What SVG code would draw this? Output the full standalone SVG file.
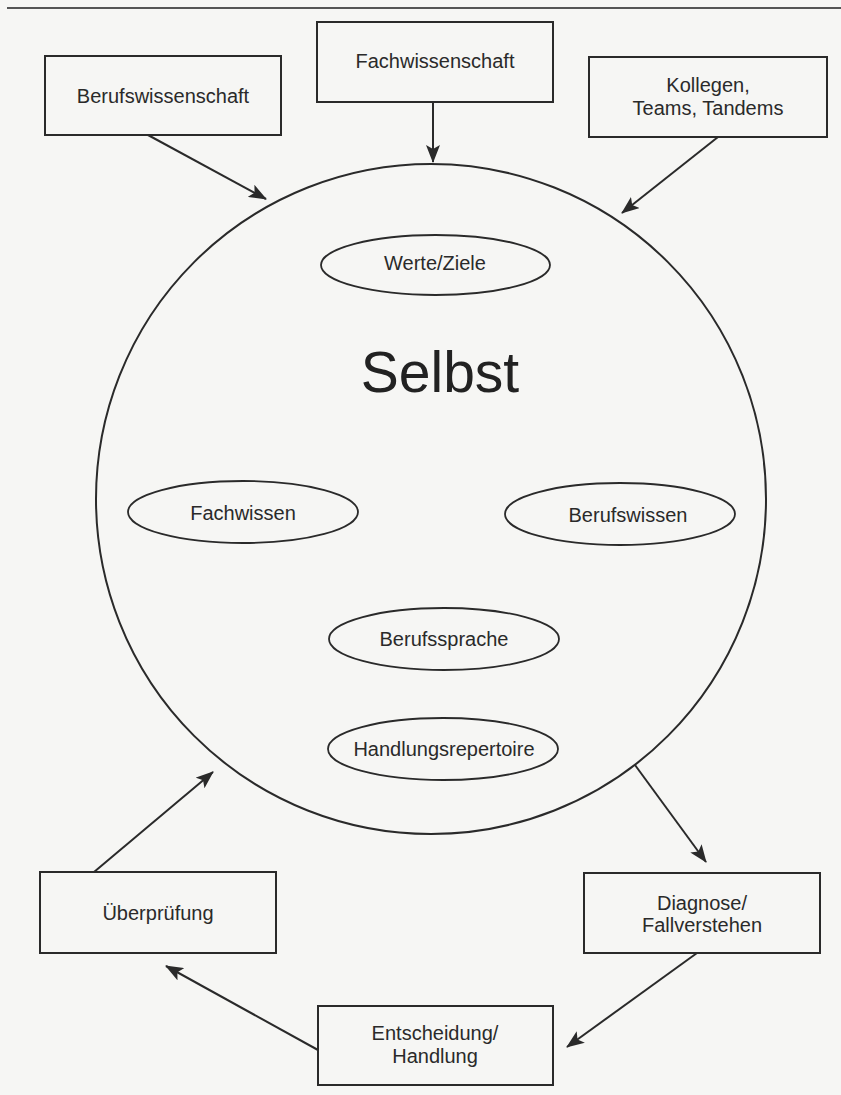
<svg xmlns="http://www.w3.org/2000/svg" width="841" height="1095" viewBox="0 0 841 1095">
  <style>
    .box { fill: none; stroke: #2a2a2a; stroke-width: 2; }
    .oval { fill: none; stroke: #2a2a2a; stroke-width: 1.8; }
    .lbl { font-family: "Liberation Sans", Arial, sans-serif; font-size: 20px; fill: #2a2a2a; text-anchor: middle; }
    .big { font-family: "Liberation Sans", Arial, sans-serif; font-size: 57px; fill: #222; text-anchor: middle; }
    .conn { stroke: #2a2a2a; stroke-width: 2; fill: none; marker-end: url(#arrow); }
  </style>
  <defs>
    <marker id="arrow" markerUnits="userSpaceOnUse" markerWidth="18" markerHeight="14" refX="17" refY="7" orient="auto">
      <path d="M0,0 L18,7 L0,14 L4,7 Z" fill="#2a2a2a"/>
    </marker>
  </defs>

  <rect x="0" y="0" width="841" height="1095" fill="#f6f6f4"/>
  <line x1="7" y1="8" x2="841" y2="8" stroke="#555" stroke-width="2"/>

  <!-- outer sources -->
  <g id="berufswissenschaft">
    <rect class="box" x="45" y="56" width="236" height="79"/>
    <text class="lbl" x="163" y="103">Berufswissenschaft</text>
  </g>
  <g id="fachwissenschaft">
    <rect class="box" x="317" y="22" width="236" height="80"/>
    <text class="lbl" x="435" y="68">Fachwissenschaft</text>
  </g>
  <g id="kollegen">
    <rect class="box" x="589" y="57" width="238" height="80"/>
    <text class="lbl" x="708" y="92">Kollegen,</text>
    <text class="lbl" x="708" y="115">Teams, Tandems</text>
  </g>

  <!-- the self with its components -->
  <g id="selbst">
    <circle class="box" cx="431" cy="499" r="335"/>
    <text class="big" x="440" y="392">Selbst</text>
  </g>
  <g id="werte-ziele">
    <ellipse class="oval" cx="435.5" cy="265" rx="114.5" ry="30"/>
    <text class="lbl" x="435" y="270">Werte/Ziele</text>
  </g>
  <g id="fachwissen">
    <ellipse class="oval" cx="243" cy="512" rx="115" ry="31"/>
    <text class="lbl" x="243" y="520">Fachwissen</text>
  </g>
  <g id="berufswissen">
    <ellipse class="oval" cx="620" cy="514" rx="115" ry="31"/>
    <text class="lbl" x="628" y="522">Berufswissen</text>
  </g>
  <g id="berufssprache">
    <ellipse class="oval" cx="444" cy="639" rx="115" ry="31"/>
    <text class="lbl" x="444" y="646">Berufssprache</text>
  </g>
  <g id="handlungsrepertoire">
    <ellipse class="oval" cx="443" cy="749" rx="115" ry="31"/>
    <text class="lbl" x="444" y="756">Handlungsrepertoire</text>
  </g>

  <!-- action cycle -->
  <g id="diagnose">
    <rect class="box" x="584" y="873" width="236" height="80"/>
    <text class="lbl" x="702" y="910">Diagnose/</text>
    <text class="lbl" x="702" y="932">Fallverstehen</text>
  </g>
  <g id="entscheidung">
    <rect class="box" x="318" y="1006" width="235" height="79"/>
    <text class="lbl" x="435" y="1040">Entscheidung/</text>
    <text class="lbl" x="435" y="1063">Handlung</text>
  </g>
  <g id="ueberpruefung">
    <rect class="box" x="40" y="872" width="236" height="81"/>
    <text class="lbl" x="158" y="920">Überprüfung</text>
  </g>

  <g id="connectors">
    <line class="conn" x1="148" y1="135" x2="266" y2="199"/>
    <line class="conn" x1="433" y1="102" x2="433" y2="162"/>
    <line class="conn" x1="718" y1="137" x2="622" y2="213"/>
    <line class="conn" x1="635" y1="765" x2="706" y2="862"/>
    <line class="conn" x1="697" y1="953" x2="567" y2="1047"/>
    <line class="conn" x1="318" y1="1050" x2="166" y2="966"/>
    <line class="conn" x1="94" y1="872" x2="213" y2="772"/>
  </g>
</svg>
